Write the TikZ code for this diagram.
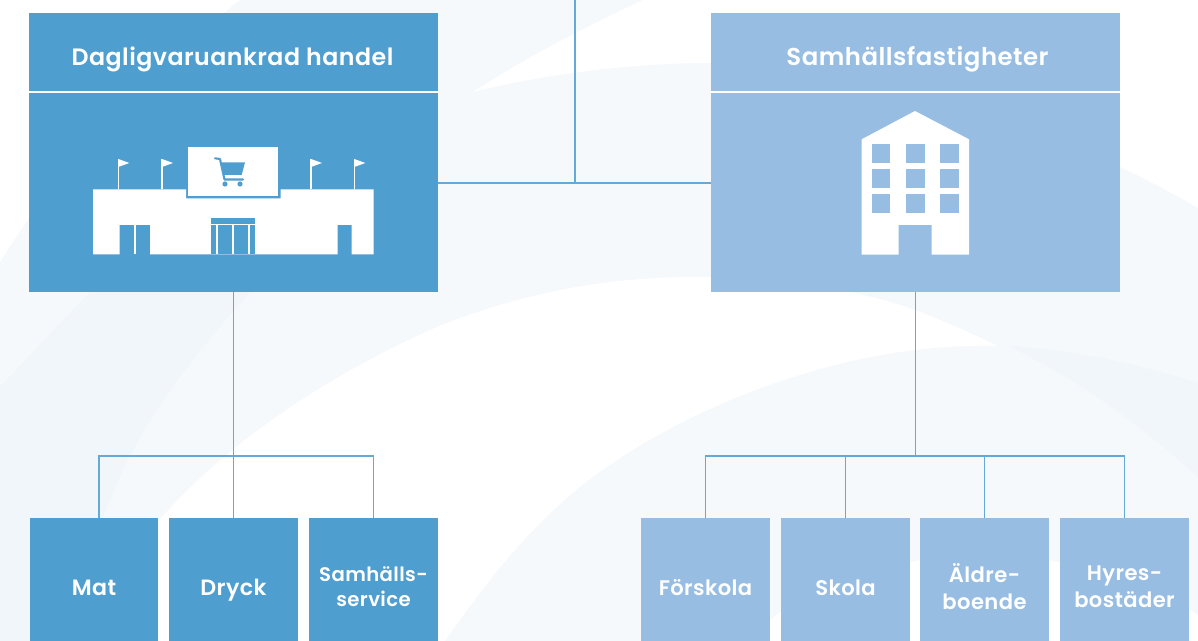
\documentclass[tikz,border=0pt]{standalone}
\usepackage{fontspec}
\setmainfont{Poppins}[LetterSpace=2,BoldFont={Poppins SemiBold}]
\definecolor{darkblue}{HTML}{4F9ED0}
\definecolor{lightblue}{HTML}{97BDE3}
\definecolor{linecol}{HTML}{64A9D8}
\definecolor{swoosh}{HTML}{F5F9FC}
\definecolor{swooshdark}{HTML}{F1F6FA}
\tikzset{
  headbox/.style={minimum width=8.18cm, minimum height=1.58cm, inner sep=0pt},
  headtext/.style={text=white, inner sep=0pt, font=\bfseries\fontsize{13.5}{16}\selectfont},
  bodybox/.style={minimum width=8.18cm, minimum height=4cm, inner sep=0pt},
  smallbox/.style={minimum width=2.58cm, minimum height=2.9cm, inner sep=0pt, text=white, align=center, execute at begin node=\strut, execute at end node=\strut, font=\bfseries\fontsize{12}{15.5}\selectfont},
  conn/.style={draw=linecol, line width=0.75pt},
}
\begin{document}
\begin{tikzpicture}[x=0.02cm,y=-0.02cm]
  \useasboundingbox (0,0) rectangle (1198,641);
  % background
  \fill[swoosh] (0,0) rectangle (1198,641);
  \fill[white] (0,0) -- (240,0) .. controls (150,70) and (70,150) .. (0,262) -- cycle;
  \fill[white] (473,92) .. controls (530,55) and (590,25) .. (643,0) -- (1198,0) -- (1198,208) .. controls (1100,150) and (900,63) .. (711,63) .. controls (630,63) and (540,75) .. (473,92) -- cycle;
  \fill[swooshdark] (90,292) -- (0,387) -- (0,641) -- (85,641) .. controls (90,600) and (95,550) .. (103,518) .. controls (130,440) and (180,370) .. (250,292) -- cycle;
  \fill[white] (85,641) .. controls (105,600) and (130,555) .. (161,518) .. controls (230,440) and (330,375) .. (430,330) .. controls (520,292) and (610,277) .. (694,277) .. controls (780,277) and (860,290) .. (915,310) .. controls (1020,350) and (1120,410) .. (1198,477) -- (1198,641) -- cycle;
  \fill[swoosh] (445,641) .. controls (495,570) and (540,515) .. (600,472) .. controls (700,400) and (850,346) .. (978,346) .. controls (1060,345) and (1130,360) .. (1198,383) -- (1198,641) -- cycle;
  \fill[swooshdark] (1008,346) .. controls (1080,350) and (1140,365) .. (1198,383) -- (1198,477) .. controls (1140,425) and (1080,380) .. (1008,346) -- cycle;
  \fill[white] (765,641) -- (770,620) .. controls (820,580) and (900,556) .. (985,555) .. controls (1070,556) and (1140,580) .. (1198,615) -- (1198,641) -- cycle;
  % top boxes
  \node[headbox, fill=darkblue] (handelhead) at (233.5,52.5) {};
  \node[headbox, fill=lightblue] (fastighethead) at (915.5,52.5) {};
  \node[bodybox, fill=darkblue] (handelbody) at (233.5,192) {};
  \node[bodybox, fill=lightblue] (fastighetbody) at (915.5,192) {};
  \node[headtext] (handeltitle) at (232.5,59) {Dagligvaruankrad handel};
  \node[headtext, font=\bfseries\fontsize{13.9}{16}\selectfont] (fastighettitle) at (917.5,59) {Samhällsfastigheter};
  \draw[white, line width=1.1pt] (handelhead.south west) -- (handelhead.south east);
  \draw[white, line width=1.1pt] (fastighethead.south west) -- (fastighethead.south east);
  % store
  \fill[white] (93,189.5) -- (186,189.5) -- (186,198.3) -- (280.7,198.3) -- (280.7,189.5) -- (373.5,189.5) -- (373.5,254.5) -- (351.7,254.5) -- (351.7,225) -- (337.7,225) -- (337.7,254.5) -- (150,254.5) -- (150,225) -- (119.5,225) -- (119.5,254.5) -- (93,254.5) -- cycle;
  \fill[white] (187.7,147.5) rectangle (278.3,195.7);
  \fill[darkblue] (211,218.5) rectangle (255,223.7);
  \fill[darkblue] (211,225) rectangle (255,254.5);
  \foreach \x in {216,232.3,248.2} \fill[white] (\x,225) rectangle (\x+2,254.5);
  \fill[white] (133.5,225) rectangle (136,254.5);
  \foreach \x in {118.3,162,311,354.3} {
    \draw[white, line width=0.8pt] (\x,189.5) -- (\x,159);
    \fill[white] (\x,159) -- (\x+11,163) -- (\x,167) -- cycle;
  }
  % cart
  \draw[darkblue, line width=1.2pt, line cap=round, line join=round] (215,158.3) -- (220,159) -- (224.5,179.5) -- (243,179.5);
  \fill[darkblue] (221.5,162.3) -- (245,162.3) -- (241.7,175) -- (224,175) -- cycle;
  \fill[darkblue] (225,184) circle (2.6);
  \fill[darkblue] (240,184) circle (2.6);
  % building
  \fill[white] (861.7,139.3) -- (915,111) -- (969,139.3) -- (969,254.7) -- (931.7,254.7) -- (931.7,225) -- (898.7,225) -- (898.7,254.7) -- (861.7,254.7) -- cycle;
  \foreach \x in {871.7,906,940.3} \foreach \y in {144,169.3,194}
    \fill[lightblue] (\x,\y) rectangle (\x+18.7,\y+18.7);
  % small boxes
  \node[smallbox, fill=darkblue, font=\bfseries\fontsize{12.6}{15.5}\selectfont] (mat) at (94,590.5) {Mat};
  \node[smallbox, fill=darkblue, font=\bfseries\fontsize{12.6}{15.5}\selectfont] (dryck) at (233.5,590.5) {Dryck};
  \node[smallbox, fill=darkblue, font=\bfseries\fontsize{11.2}{14}\selectfont] (service) at (373.5,590.5) {Samhälls-\\service};
  \node[smallbox, fill=lightblue] (forskola) at (705.5,590.5) {Förskola};
  \node[smallbox, fill=lightblue] (skola) at (845.5,590.5) {Skola};
  \node[smallbox, fill=lightblue] (aldre) at (984.5,590.5) {Äldre-\\boende};
  \node[smallbox, fill=lightblue] (hyres) at (1124.5,590.5) {Hyres-\\bostäder};
  % connectors
  \coordinate (top) at (575,0);
  \coordinate (join) at (575,183);
  \coordinate (matdrop) at (99,456);
  \coordinate (rightbar) at (915.5,456);
  \draw[conn] (top) -- (join);
  \draw[conn] (handelbody.east |- join) -- (fastighetbody.west |- join);
  \draw[conn] (handelbody.south) -- (dryck.north);
  \draw[conn] (matdrop |- mat.north) -- (matdrop) -| (service.north);
  \draw[conn] (fastighetbody.south) -- (rightbar);
  \draw[conn] (forskola.north) |- (rightbar) -| (hyres.north);
  \draw[conn] (skola.north) -- (skola.north |- rightbar);
  \draw[conn] (aldre.north) -- (aldre.north |- rightbar);
\end{tikzpicture}
\end{document}
